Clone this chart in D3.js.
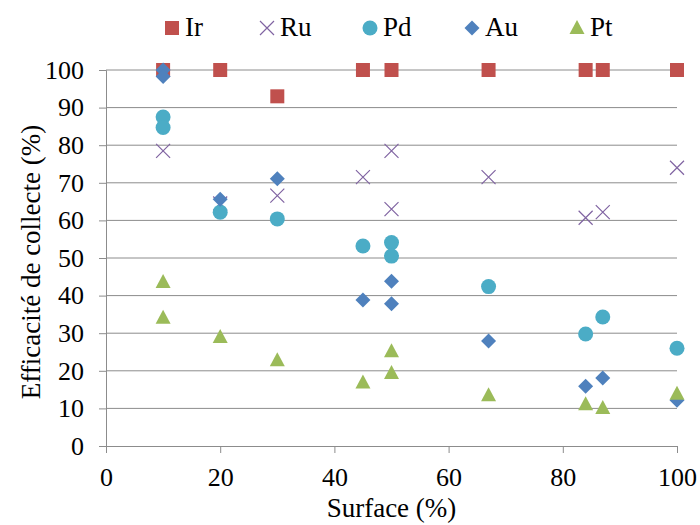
<!DOCTYPE html>
<html><head><meta charset="utf-8">
<script src="https://cdn.jsdelivr.net/npm/d3@7"></script>
<style>body{margin:0;background:#fff}svg{display:block}</style>
</head><body><svg id="c" width="700" height="525"></svg>
<script>
const seriesNames = ["Ir","Ru","Pd","Au","Pt"];
const seriesColors = ["#C0504D","#8064A2","#4BACC6","#4F81BD","#9BBB59"];
const irX = [10,20,30,45,50,67,84,87,100];
const irY = [100,100,93,100,100,100,100,100,100];
const ruX = [10,20,30,45,50,50,67,84,87,100];
const ruY = [78.5,64.5,66.6,71.5,78.5,63,71.5,60.7,62.2,74];
const pdX = [10,10,20,30,45,50,50,67,84,87,100];
const pdY = [87.5,84.7,62.2,60.4,53.2,54.1,50.5,42.4,29.8,34.3,26];
const auX = [10,10,20,30,45,50,50,67,84,87,100];
const auY = [100,98.3,65.6,71.1,38.8,43.8,37.8,27.9,15.9,18.1,12.2];
const ptX = [10,10,20,30,45,50,50,67,84,87,100];
const ptY = [43.6,34.1,29,22.8,16.9,25.2,19.4,13.5,11.1,10.1,13.9];
const xTicks = [0,20,40,60,80,100];
const yTicks = [0,10,20,30,40,50,60,70,80,90,100];

const FONT = "Liberation Serif";
const svg = d3.select("#c");
const L=106, R=677, T=70, B=446;
const x = d3.scaleLinear().domain([0,100]).range([L,R]);
const y = d3.scaleLinear().domain([0,100]).range([B,T]);
const grid="#8c8c8c";

svg.append("g").selectAll("line").data(yTicks.filter(d=>d>0)).join("line")
  .attr("x1",L).attr("x2",R).attr("y1",d=>y(d)).attr("y2",d=>y(d))
  .attr("stroke",grid).attr("stroke-width",1);

const ya = svg.append("g").attr("transform",`translate(${L},0)`)
  .call(d3.axisLeft(y).tickValues(yTicks).tickSize(7).tickPadding(15).tickFormat(d3.format("d")));
const xa = svg.append("g").attr("transform",`translate(0,${B})`)
  .call(d3.axisBottom(x).tickValues(xTicks).tickSize(7).tickPadding(15).tickFormat(d3.format("d")));
[ya,xa].forEach(a=>{
  a.attr("font-family",FONT).attr("font-size",26);
  a.selectAll("path.domain").attr("stroke",grid);
  a.selectAll(".tick line").attr("stroke",grid);
  a.selectAll("text").attr("font-family",FONT).attr("font-size",26).attr("fill","#000");
});

svg.append("text").attr("x",(L+R)/2).attr("y",517).attr("text-anchor","middle")
  .attr("font-family",FONT).attr("font-size",27).attr("fill","#000").text("Surface (%)");
svg.append("text").attr("transform",`translate(40,262) rotate(-90)`).attr("text-anchor","middle")
  .attr("font-family",FONT).attr("font-size",27).attr("fill","#000").text("Efficacité de collecte (%)");

function marker(g, type, color){
  if(type==="Ir") g.append("rect").attr("x",-7).attr("y",-7).attr("width",14).attr("height",14).attr("fill",color);
  else if(type==="Ru") g.append("path").attr("d","M-7,-7L7,7M-7,7L7,-7").attr("stroke",color).attr("stroke-width",1.2).attr("fill","none");
  else if(type==="Pd") g.append("circle").attr("r",7.5).attr("fill",color);
  else if(type==="Au") g.append("path").attr("d","M0,-7.5L7.5,0L0,7.5L-7.5,0Z").attr("fill",color);
  else g.append("path").attr("d","M0,-8L7.5,6L-7.5,6Z").attr("fill",color);
}

const data = [[irX,irY],[ruX,ruY],[pdX,pdY],[auX,auY],[ptX,ptY]];
data.forEach(([xs,ys],i)=>{
  const g = svg.append("g");
  xs.forEach((xv,j)=>{
    const m = g.append("g").attr("transform",`translate(${x(xv)},${y(ys[j])})`);
    marker(m, seriesNames[i], seriesColors[i]);
  });
});

const legX = [172,267,370,472,577];
seriesNames.forEach((n,i)=>{
  const m = svg.append("g").attr("transform",`translate(${legX[i]},28)`);
  marker(m,n,seriesColors[i]);
  svg.append("text").attr("x",legX[i]+13).attr("y",36).attr("font-family",FONT)
    .attr("font-size",27).attr("fill","#000").text(n);
});
</script></body></html>
